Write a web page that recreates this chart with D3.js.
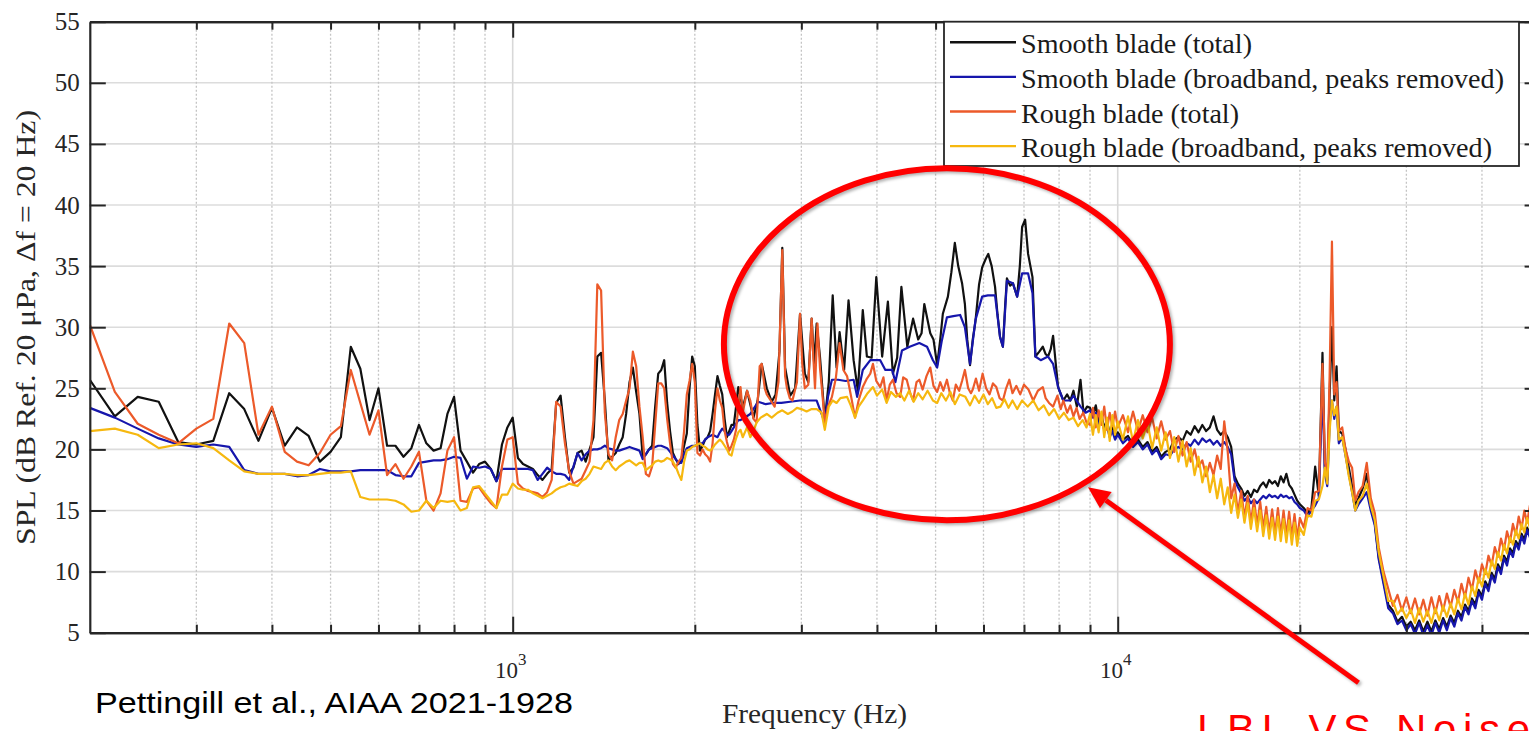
<!DOCTYPE html>
<html>
<head>
<meta charset="utf-8">
<script src="https://cdnjs.cloudflare.com/ajax/libs/d3/7.8.5/d3.min.js"></script>
<style>
  body { margin: 0; background: #fff; }
  svg { display: block; }
</style>
</head>
<body>
<div class="container"></div>
<script>
// ---- data (frequency in Hz, SPL in dB) ----
const legendNames = ["Smooth blade (total)", "Smooth blade (broadband, peaks removed)",
                     "Rough blade (total)", "Rough blade (broadband, peaks removed)"];
const yTicks = [5, 10, 15, 20, 25, 30, 35, 40, 45, 50, 55];
const xMajor = [1000, 10000];
const xMajorExp = ["3", "4"];
const xMinor = [300, 400, 500, 600, 700, 800, 900, 2000, 3000, 4000, 5000, 6000, 7000, 8000, 9000, 20000, 30000, 40000];

// 200 - 980 Hz, 20 Hz bins
const lowFreq = [200,220,240,260,280,300,320,340,360,380,400,420,440,460,480,500,520,540,560,580,
                 600,620,640,660,680,700,720,740,760,780,800,820,840,860,880,900,920,940,960,980];
const lowSmoothTotal = [25.7,22.7,24.3,23.9,20.6,20.4,20.7,24.6,23.3,20.7,23.4,20.3,21.8,21.1,19.0,19.8,21.0,28.4,26.6,22.4,
                        25.0,20.3,20.3,19.4,20.1,22.0,20.5,19.9,20.1,22.9,24.3,19.9,19.0,18.1,18.8,19.0,18.4,17.4,20.4,21.8];
const lowSmoothBroad = [23.4,22.6,21.7,20.9,20.4,20.2,20.4,20.2,18.3,18.0,18.0,18.0,17.8,17.9,18.4,18.2,18.2,18.2,18.3,18.3,
                        18.3,18.3,17.9,17.8,17.8,18.9,19.0,19.1,19.1,19.2,19.4,19.3,17.6,18.6,18.5,18.6,18.4,17.4,18.4,18.4];
const lowRoughTotal = [30.2,24.7,22.1,21.2,20.5,21.7,22.5,30.3,28.7,21.2,23.5,19.8,19.0,18.7,19.7,21.2,21.9,26.5,23.8,21.2,
                       23.2,17.9,18.8,17.6,18.6,19.8,15.8,15.0,16.4,19.9,21.0,15.8,15.7,16.8,16.9,16.2,15.6,15.2,18.6,20.8];
const lowRoughBroad = [21.5,21.7,21.2,20.1,20.4,20.5,20.1,19.1,18.2,18.0,18.0,18.0,17.9,17.9,18.0,18.1,18.1,18.2,16.1,15.9,
                       15.9,15.9,15.8,15.5,14.9,15.0,15.8,15.2,15.8,15.7,15.8,15.0,15.2,16.9,17.0,16.4,15.8,15.2,16.3,16.3];

// 1000 - 2380 Hz, 20 Hz bins
const midFreq = [1000,1020,1040,1060,1080,1100,1120,1140,1160,1180,1200,1220,1240,1260,1280,1300,1320,1340,1360,1380,
                 1400,1420,1440,1460,1480,1500,1520,1540,1560,1580,1600,1620,1640,1660,1680,1700,1720,1740,1760,1780,
                 1800,1820,1840,1860,1880,1900,1920,1940,1960,1980,2000,2020,2040,2060,2080,2100,2120,2140,2160,2180,
                 2200,2220,2240,2260,2280,2300,2320,2340,2360,2380];
const midSmoothTotal = [22.6,19.3,18.8,18.6,18.4,17.9,17.5,18.0,18.4,23.8,24.4,21.0,18.1,18.5,19.7,19.9,19.0,20.0,21.0,27.6,
                        27.9,24.0,19.1,19.4,19.7,20.4,21.0,22.9,25.5,26.7,24.7,22.9,19.4,19.6,20.0,20.3,23.5,26.2,26.5,27.3,
                        23.8,21.5,19.7,19.2,18.8,19.2,20.3,21.3,25.0,27.6,26.8,22.0,19.9,20.3,20.8,21.0,21.5,22.9,24.5,26.0,
                        25.2,24.5,22.5,21.0,21.5,22.0,22.0,23.5,25.1,24.3];
const midSmoothBroad = [18.4,18.4,18.4,18.4,18.3,17.5,18.0,18.5,18.2,18.0,18.0,17.9,17.5,18.6,19.7,19.1,19.6,19.9,20.0,20.0,
                        20.1,20.3,20.1,20.0,19.9,19.9,20.0,20.1,20.2,20.1,20.0,19.9,19.2,19.6,20.0,20.1,20.2,20.3,20.3,20.2,
                        20.1,19.8,19.5,19.2,18.9,18.9,19.6,20.1,20.2,20.3,20.3,20.4,20.5,20.5,20.8,21.0,21.1,21.2,21.1,21.0,
                        21.4,21.7,21.5,21.2,21.2,21.5,21.8,22.1,22.4,22.4];
const midRoughTotal = [21.0,17.2,16.8,16.6,16.5,16.4,16.1,16.5,17.5,23.9,23.5,20.5,18.2,17.2,17.4,17.6,18.3,19.0,22.4,33.5,
                       33.0,23.0,19.6,19.1,21.0,22.4,22.9,24.0,25.0,28.0,26.8,23.5,21.0,18.0,17.8,18.6,22.0,25.4,25.4,25.0,
                       22.5,20.5,18.8,18.5,19.0,19.3,21.5,24.5,25.6,27.0,25.5,19.7,19.5,20.0,19.6,19.4,19.0,20.5,23.2,25.0,
                       24.0,23.4,21.5,20.6,19.9,20.3,20.8,21.6,23.5,25.1];
const midRoughBroad = [17.2,16.8,16.7,16.7,16.4,16.2,16.0,16.2,16.4,16.7,16.9,17.0,17.2,17.1,17.0,17.4,17.6,18.0,18.6,18.5,
                       18.4,18.9,19.1,18.6,18.3,18.6,18.8,19.0,19.1,18.9,18.7,18.9,18.9,18.3,18.5,18.7,19.0,19.1,19.0,19.1,
                       19.3,19.2,19.0,18.6,18.0,17.5,19.0,19.9,20.0,20.2,20.3,20.4,20.5,20.3,20.2,20.0,19.9,20.1,20.4,20.6,
                       20.8,20.6,20.3,20.0,19.6,19.5,20.3,20.9,21.4,21.6];

// 2400 - 8900 Hz, read as [Hz, dB]
const upSmoothTotal = [[2400,23.4],[2440,24.8],[2500,22.6],[2540,24.0],[2580,27.0],[2630,25.0],[2680,23.9],[2720,24.5],
  [2760,28.0],[2790,36.5],[2820,26.7],[2875,24.4],[2930,25.0],[2985,31.1],[3040,26.2],[3080,25.5],[3120,30.7],[3150,27.0],
  [3180,30.3],[3220,27.6],[3280,22.4],[3330,25.5],[3380,32.6],[3430,26.7],[3470,29.6],[3530,26.5],[3590,32.2],[3660,27.3],
  [3720,24.8],[3790,31.4],[3850,27.6],[3920,27.5],[3990,34.1],[4080,27.6],[4170,32.1],[4250,26.2],[4320,27.5],[4390,33.3],
  [4490,28.4],[4590,30.7],[4680,29.0],[4740,29.5],[4790,31.9],[4900,29.5],[4960,29.0],[5030,26.9],[5090,29.0],[5140,31.1],
  [5240,32.5],[5310,34.5],[5380,36.9],[5450,35.0],[5530,33.6],[5590,31.9],[5640,29.0],[5700,26.9],[5760,29.0],[5820,30.5],
  [5900,33.5],[5970,34.9],[6040,35.5],[6110,36.0],[6190,35.0],[6270,33.3],[6330,31.0],[6390,29.2],[6460,28.4],[6520,32.0],
  [6560,34.0],[6640,33.4],[6710,33.6],[6820,32.5],[6890,35.0],[6950,38.2],[7030,38.8],[7110,36.0],[7230,34.1],[7310,27.6],
  [7420,28.0],[7520,28.4],[7600,27.8],[7670,27.6],[7750,28.2],[7820,29.3],[7900,27.0],[7970,25.1],[8130,24.0],[8250,24.5],
  [8350,24.0],[8450,24.8],[8560,23.5],[8680,25.7],[8780,23.0],[8900,23.5]];
const upSmoothBroad = [[2400,22.5],[2470,22.9],[2545,23.9],[2620,23.7],[2690,23.8],[2780,23.8],[2875,23.9],[2985,24.0],
  [3080,24.0],[3180,24.0],[3240,22.9],[3280,22.2],[3320,24.3],[3370,25.7],[3450,25.7],[3550,25.6],[3660,25.7],[3710,24.3],
  [3790,26.5],[3900,27.3],[4050,27.3],[4130,26.5],[4240,26.5],[4290,25.5],[4400,28.1],[4530,28.4],[4700,28.7],[4840,28.4],
  [4950,27.3],[5030,26.7],[5120,28.9],[5220,30.8],[5350,30.9],[5490,31.0],[5590,30.0],[5700,27.0],[5820,30.6],[5970,32.5],
  [6100,32.6],[6270,32.6],[6390,29.2],[6460,28.4],[6560,33.8],[6710,33.6],[6820,32.5],[6950,34.4],[7110,34.4],[7230,32.8],
  [7310,27.6],[7460,27.3],[7670,27.6],[7820,27.0],[7970,25.1],[8130,24.0],[8350,24.0],[8450,24.4],[8680,23.5],[8850,23.0]];
const upRoughTotal = [[2400,23.0],[2440,24.8],[2470,24.0],[2500,22.5],[2530,22.2],[2560,26.8],[2580,27.0],[2610,25.0],
  [2630,24.5],[2670,24.0],[2710,23.5],[2750,25.5],[2790,36.3],[2820,26.0],[2840,25.0],[2870,24.2],[2900,24.0],[2950,25.5],
  [2985,31.1],[3010,27.0],[3040,25.0],[3080,25.3],[3120,30.7],[3140,27.5],[3160,25.0],[3190,30.3],[3220,26.7],[3250,24.5],
  [3280,22.2],[3320,23.5],[3370,24.3],[3420,25.8],[3470,28.7],[3520,26.5],[3570,26.0],[3620,24.5],[3680,22.6],[3730,24.0],
  [3790,25.1],[3850,25.8],[3900,26.2],[3940,27.0],[3990,25.6],[4050,25.1],[4100,25.9],[4150,24.0],[4200,25.3],[4250,25.7],
  [4310,24.6],[4370,24.3],[4420,25.9],[4480,25.7],[4540,24.6],[4590,24.0],[4650,25.5],[4700,25.7],[4760,24.9],[4830,26.0],
  [4900,26.7],[4960,25.2],[5030,24.7],[5090,25.5],[5150,24.8],[5220,25.7],[5280,24.6],[5340,24.0],[5400,25.3],[5470,24.8],
  [5530,25.6],[5590,26.5],[5660,25.0],[5720,24.6],[5760,24.9],[5830,25.8],[5900,24.8],[5980,26.2],[6060,25.0],[6140,24.5],
  [6220,25.4],[6300,25.1],[6380,24.2],[6460,24.0],[6540,25.0],[6620,25.7],[6700,24.6],[6800,25.2],[6900,24.5],[7000,25.3],
  [7120,24.9],[7250,24.0],[7380,24.8],[7520,25.1],[7600,24.2],[7700,23.8],[7820,23.5],[7950,24.4],[8050,23.3],[8130,24.0],
  [8250,23.0],[8350,23.6],[8450,22.7],[8550,23.4],[8650,22.5],[8770,23.0],[8880,22.2]];
const upRoughBroad = [[2400,21.0],[2440,21.8],[2470,21.0],[2500,21.5],[2530,22.2],[2570,22.6],[2630,22.9],[2680,22.6],
  [2740,23.0],[2790,23.2],[2850,22.9],[2900,23.1],[2950,23.4],[3000,23.3],[3060,23.1],[3120,23.3],[3180,23.3],[3240,23.0],
  [3280,21.6],[3330,23.5],[3380,24.0],[3430,23.8],[3480,24.2],[3570,24.3],[3620,23.6],[3680,22.6],[3730,23.5],[3790,24.0],
  [3860,24.6],[3940,25.1],[4000,24.4],[4080,24.9],[4150,23.8],[4220,24.7],[4300,24.3],[4370,24.6],[4440,24.0],[4520,24.8],
  [4600,23.9],[4680,24.6],[4760,24.1],[4850,24.8],[4950,24.0],[5030,23.8],[5110,24.6],[5200,24.0],[5290,24.7],[5380,23.7],
  [5480,24.5],[5600,24.3],[5700,23.6],[5800,24.4],[5900,23.8],[6000,24.5],[6100,23.7],[6200,24.2],[6300,23.4],[6400,23.5],
  [6500,24.1],[6600,23.4],[6700,24.0],[6820,23.3],[6950,24.0],[7100,23.5],[7250,24.0],[7400,23.2],[7550,23.6],[7700,22.8],
  [7850,23.3],[8000,22.5],[8150,23.0],[8300,22.4],[8450,22.6],[8600,21.9],[8750,22.4],[8880,21.8]];

// 9 kHz - 50 kHz
const hiFreq = [9000,9100,9200,9300,9400,9500,9600,9700,9800,9900,10000,
  10200,10400,10600,10800,11000,11200,11400,11600,11800,12000,
  12200,12400,12600,12800,13000,13200,13400,13600,13800,14000,
  14200,14400,14600,14800,15000,15200,15400,15600,15800,16000,
  16200,16400,16600,16800,17000,17200,17400,17600,17800,18000,
  18200,18400,18600,18800,19000,19200,19400,19600,19800,20000,
  20300,20600,20900,21200,21500,21800,22000,22200,22400,22600,
  22800,23000,23200,23500,23800,24100,24400,24700,25000,25400,
  25800,26200,26600,27000,27500,28000,28500,29000,29500,30000,
  30500,31000,31500,32000,32500,33000,33500,34000,34500,35000,
  35500,36000,36500,37000,37500,38000,38500,39000,39500,40000,
  40500,41000,41500,42000,42500,43000,43500,44000,44500,45000,
  45500,46000,46500,47000,47500,48000,48500,49000,49500,50000];
const hiSmoothTotal = [23.4,22.8,23.6,22.3,22.8,21.8,22.3,21.3,21.9,21.0,21.4,
  20.8,21.1,20.4,20.8,20.2,20.6,19.8,20.2,19.4,19.8,
  20.0,20.8,21.0,20.7,21.5,21.2,21.9,21.4,22.0,21.5,
  21.8,22.7,21.6,21.2,21.5,21.0,20.2,17.8,17.2,16.8,
  16.2,16.6,16.1,16.7,16.5,17.0,17.3,16.9,17.5,17.2,
  17.4,17.0,17.8,17.3,18.0,17.1,16.8,16.3,15.8,15.5,
  15.2,14.8,15.2,18.6,16.2,27.9,18.5,17.5,24.5,30.0,
  24.0,26.8,21.5,21.3,20.0,18.5,17.0,15.5,16.0,16.8,
  18.0,15.3,14.0,11.2,9.2,7.3,6.8,5.9,6.3,5.5,
  5.9,5.2,6.0,5.1,5.9,5.1,6.0,5.3,6.2,5.5,
  6.4,5.8,6.8,6.3,7.3,6.8,7.8,7.3,8.5,8.0,
  9.2,8.7,9.9,9.4,10.6,10.1,11.3,10.8,11.9,11.5,
  12.5,12.1,13.1,12.6,13.6,13.1,14.0,13.5,14.4,13.9];
const hiSmoothBroad = [23.2,22.6,23.0,22.0,22.4,21.6,21.9,21.0,21.5,20.8,21.2,
  20.5,20.9,20.2,20.6,20.0,20.4,19.6,20.0,19.2,19.6,
  19.5,20.0,20.2,20.0,20.5,20.3,20.8,20.4,20.9,20.6,
  20.8,20.4,20.7,20.3,20.6,20.2,19.6,17.5,16.9,16.4,
  15.8,16.1,15.6,15.9,15.6,15.9,16.2,16.0,16.3,16.1,
  16.2,16.0,16.3,16.1,16.2,16.0,16.1,15.7,15.5,15.2,
  15.0,14.5,15.0,15.4,16.0,25.0,18.0,17.0,22.0,24.0,
  22.5,23.5,20.5,21.0,19.5,18.0,16.5,15.0,15.5,16.0,
  16.5,15.0,13.8,11.0,9.0,7.0,6.6,5.7,6.0,5.2,
  5.7,4.9,5.8,4.8,5.6,4.8,5.8,5.0,6.0,5.2,
  6.2,5.5,6.6,6.0,7.1,6.5,7.6,7.0,8.3,7.7,
  9.0,8.4,9.7,9.1,10.4,9.8,11.1,10.5,11.7,11.2,
  12.3,11.8,12.9,12.3,13.4,12.8,13.8,13.2,14.2,13.6];
const hiRoughTotal = [22.0,23.4,21.8,23.2,22.0,23.5,21.6,23.0,21.9,23.1,21.8,
  22.8,21.4,23.1,21.5,22.8,21.4,22.6,20.9,22.3,20.8,
  21.5,19.8,21.1,19.5,20.6,19.0,20.0,18.6,19.1,17.8,
  18.9,17.9,19.5,18.4,22.3,19.8,16.0,17.2,14.8,16.6,
  14.4,16.2,14.0,15.9,13.8,15.7,13.5,15.3,13.2,15.1,
  13.1,15.2,13.0,15.0,12.9,14.9,12.8,14.7,12.7,14.4,
  13.6,15.2,15.0,16.5,16.6,27.0,19.0,17.8,26.0,37.0,
  24.5,25.5,21.5,21.8,20.0,19.0,18.5,15.8,16.5,17.0,
  18.9,16.0,14.8,12.0,10.0,8.6,7.2,8.1,6.8,7.9,
  6.6,7.8,6.5,7.7,6.4,7.9,6.6,8.0,6.8,8.2,
  7.1,8.5,7.5,9.0,7.9,9.5,8.5,10.1,9.1,10.6,
  9.8,11.3,10.5,12.0,11.2,12.7,11.8,13.3,12.4,13.9,
  13.0,14.5,13.5,15.0,14.0,15.4,14.4,15.8,14.7,16.0];
const hiRoughBroad = [22.9,21.2,22.8,21.4,23.1,21.0,22.6,20.7,22.8,21.2,22.3,
  20.8,22.7,20.6,22.4,20.9,22.2,20.1,21.8,19.9,21.4,
  19.3,21.0,19.0,20.7,18.6,20.1,17.9,19.4,17.3,18.6,
  16.5,17.9,16.0,17.6,15.5,16.9,14.8,16.3,14.4,15.9,
  14.0,15.6,13.5,15.2,13.3,15.0,12.9,14.6,12.7,14.4,
  12.6,14.5,12.5,14.3,12.4,14.2,12.2,14.0,12.1,13.6,
  13.0,14.6,14.5,15.8,15.9,17.0,18.5,17.2,21.5,24.0,
  22.8,23.5,20.8,21.0,19.5,17.8,16.5,15.0,15.8,16.2,
  17.2,15.4,14.2,11.6,9.6,7.6,7.6,6.5,7.0,6.2,
  6.9,5.8,7.0,5.9,6.8,5.8,7.0,6.0,7.2,6.3,
  7.4,6.5,7.8,6.9,8.2,7.3,8.8,8.0,9.5,8.8,
  10.2,9.5,10.9,10.2,11.6,10.9,12.2,11.5,12.8,12.2,
  13.4,12.7,13.9,13.2,14.4,13.6,14.8,14.0,15.1,14.5];

const colors = ["#111111", "#1616ac", "#ec5a2a", "#f6b80f"];

// ---- layout ----
const width = 1529, height = 731;
const margin = { top: 21.7, left: 89.8, right: 1540.6, bottom: 632.7 };

let svg = d3.select(".container")
    .append("svg")
    .attr("width", width)
    .attr("height", height)
    .attr("viewBox", [0, 0, width, height])
    .style("overflow", "hidden");

let x = d3.scaleLog().domain([200, 50000]).range([margin.left, margin.right]);
let y = d3.scaleLinear().domain([5, 55]).range([margin.bottom, margin.top]);

// grid
let grid = svg.append("g");
grid.selectAll("line.h")
    .data(yTicks.slice(1, -1))
    .join("line")
    .attr("x1", margin.left).attr("x2", margin.right)
    .attr("y1", d => y(d)).attr("y2", d => y(d))
    .attr("stroke", "#dcdcdc").attr("stroke-width", 1.6);
grid.selectAll("line.v")
    .data(xMinor)
    .join("line")
    .attr("x1", d => x(d)).attr("x2", d => x(d))
    .attr("y1", margin.top).attr("y2", margin.bottom)
    .attr("stroke", "#c4c4c4").attr("stroke-width", 1.3)
    .attr("stroke-dasharray", "2,2");
grid.selectAll("line.d")
    .data(xMajor)
    .join("line")
    .attr("x1", d => x(d)).attr("x2", d => x(d))
    .attr("y1", margin.top).attr("y2", margin.bottom)
    .attr("stroke", "#d8d8d8").attr("stroke-width", 1.6);

// series
svg.append("clipPath").attr("id", "plot-clip")
    .append("rect")
    .attr("x", margin.left).attr("y", margin.top)
    .attr("width", margin.right - margin.left).attr("height", margin.bottom - margin.top);

let parts = [
    [lowSmoothTotal, midSmoothTotal, upSmoothTotal, hiSmoothTotal],
    [lowSmoothBroad, midSmoothBroad, upSmoothBroad, hiSmoothBroad],
    [lowRoughTotal, midRoughTotal, upRoughTotal, hiRoughTotal],
    [lowRoughBroad, midRoughBroad, upRoughBroad, hiRoughBroad]
];
let dataset = parts.map(p => [].concat(
    lowFreq.map((f, i) => [f, p[0][i]]),
    midFreq.map((f, i) => [f, p[1][i]]),
    p[2],
    hiFreq.map((f, i) => [f, p[3][i]])
));

let line = d3.line().x(d => x(d[0])).y(d => y(d[1]));

svg.append("g")
    .attr("clip-path", "url(#plot-clip)")
    .selectAll("path")
    .data(dataset)
    .join("path")
    .attr("d", line)
    .attr("fill", "none")
    .attr("stroke", (d, i) => colors[i])
    .attr("stroke-width", 2.2)
    .attr("stroke-linejoin", "round");

// axes (ticks pointing inward, MATLAB box style)
const axisColor = "#262626";
function styleAxis(g) {
    g.select(".domain").attr("stroke", axisColor).attr("stroke-width", 2.2);
    g.selectAll(".tick line").attr("stroke", axisColor).attr("stroke-width", 2);
    g.selectAll(".tick text")
        .attr("fill", axisColor)
        .style("font-family", "'Liberation Serif', 'Times New Roman', serif")
        .style("font-size", "25px");
}

svg.append("g")
    .attr("transform", `translate(${margin.left}, 0)`)
    .call(d3.axisLeft(y).tickValues(yTicks).tickSize(-16).tickSizeOuter(0).tickPadding(10))
    .call(styleAxis);

svg.append("g")
    .attr("transform", `translate(${margin.right}, 0)`)
    .call(d3.axisRight(y).tickValues(yTicks).tickSize(-16).tickSizeOuter(0).tickFormat(""))
    .call(styleAxis);

[[d3.axisBottom, margin.bottom], [d3.axisTop, margin.top]].forEach(([ax, pos]) => {
    svg.append("g")
        .attr("transform", `translate(0, ${pos})`)
        .call(ax(x).tickValues(xMinor).tickSize(-8).tickSizeOuter(0).tickFormat(""))
        .call(styleAxis);
    svg.append("g")
        .attr("transform", `translate(0, ${pos})`)
        .call(ax(x).tickValues(xMajor).tickSize(-16).tickSizeOuter(0).tickFormat(""))
        .call(styleAxis);
});

// decade labels 10^3, 10^4
let decade = svg.append("g")
    .selectAll("text")
    .data(xMajor)
    .join("text")
    .attr("x", d => x(d) - 17.7)
    .attr("y", 678)
    .attr("fill", axisColor)
    .style("font-family", "'Liberation Serif', 'Times New Roman', serif")
    .style("font-size", "23px");
decade.append("tspan").text("10");
decade.append("tspan")
    .attr("dy", -13)
    .style("font-size", "17px")
    .text((d, i) => xMajorExp[i]);

// axis titles
svg.append("text")
    .attr("x", 814.5)
    .attr("y", 723)
    .attr("text-anchor", "middle")
    .attr("textLength", 185)
    .attr("lengthAdjust", "spacingAndGlyphs")
    .attr("fill", axisColor)
    .style("font-family", "'Liberation Serif', 'Times New Roman', serif")
    .style("font-size", "27px")
    .text("Frequency (Hz)");

svg.append("text")
    .attr("transform", "translate(35, 327.5) rotate(-90)")
    .attr("text-anchor", "middle")
    .attr("textLength", 435)
    .attr("lengthAdjust", "spacingAndGlyphs")
    .attr("fill", axisColor)
    .style("font-family", "'Liberation Serif', 'Times New Roman', serif")
    .style("font-size", "27px")
    .text("SPL (dB Ref. 20 \u03bcPa, \u0394f = 20 Hz)");

// legend
const legendWidths = [231, 483, 218, 471];
let legend = svg.append("g");
legend.append("rect")
    .attr("x", 944).attr("y", margin.top)
    .attr("width", 1519 - 944).attr("height", 166 - margin.top)
    .attr("fill", "#fff")
    .attr("stroke", axisColor).attr("stroke-width", 1.8);
let rows = legend.selectAll("g.row")
    .data(legendNames)
    .join("g")
    .attr("transform", (d, i) => `translate(0, ${42.3 + i * 34.6})`);
rows.append("line")
    .attr("x1", 950).attr("x2", 1016)
    .attr("stroke", (d, i) => colors[i])
    .attr("stroke-width", 2.4);
rows.append("text")
    .attr("x", 1021).attr("y", 11)
    .attr("textLength", (d, i) => legendWidths[i])
    .attr("lengthAdjust", "spacingAndGlyphs")
    .attr("fill", "#1a1a1a")
    .style("font-family", "'Liberation Serif', 'Times New Roman', serif")
    .style("font-size", "27px")
    .text(d => d);

// annotations
svg.append("ellipse")
    .attr("cx", x(5220)).attr("cy", y(28.6))
    .attr("rx", 223).attr("ry", 176)
    .attr("fill", "none")
    .attr("stroke", "#ff0000")
    .attr("stroke-width", 6)
    .style("filter", "drop-shadow(2px 2px 1.5px rgba(0,0,0,0.3))");

let tail = [x(25000), y(0.9)], tip = [x(8930), y(16.9)];
let dx = tip[0] - tail[0], dy = tip[1] - tail[1], len = Math.hypot(dx, dy);
let ux = dx / len, uy = dy / len;
let base = [tip[0] - 22 * ux, tip[1] - 22 * uy];
let arrow = svg.append("g")
    .style("filter", "drop-shadow(2px 2px 1.5px rgba(0,0,0,0.3))");
arrow.append("line")
    .attr("x1", tail[0]).attr("y1", tail[1])
    .attr("x2", base[0]).attr("y2", base[1])
    .attr("stroke", "#ff0000").attr("stroke-width", 5);
arrow.append("polygon")
    .attr("points", [tip, [base[0] - 10 * uy, base[1] + 10 * ux], [base[0] + 10 * uy, base[1] - 10 * ux]]
        .map(p => p.join(",")).join(" "))
    .attr("fill", "#ff0000");

// the label runs past the bottom edge in the original slide
svg.append("text")
    .attr("x", 1197).attr("y", 744)
    .attr("textLength", 333)
    .attr("lengthAdjust", "spacing")
    .attr("fill", "#ff0000")
    .style("font-family", "'Liberation Sans', Arial, sans-serif")
    .style("font-size", "42px")
    .text("LBL VS Noise");

svg.append("text")
    .attr("x", 95).attr("y", 713)
    .attr("textLength", 478)
    .attr("lengthAdjust", "spacingAndGlyphs")
    .attr("fill", "#000")
    .style("font-family", "'Liberation Sans', Arial, sans-serif")
    .style("font-size", "30px")
    .text("Pettingill et al., AIAA 2021-1928");
</script>
</body>
</html>
